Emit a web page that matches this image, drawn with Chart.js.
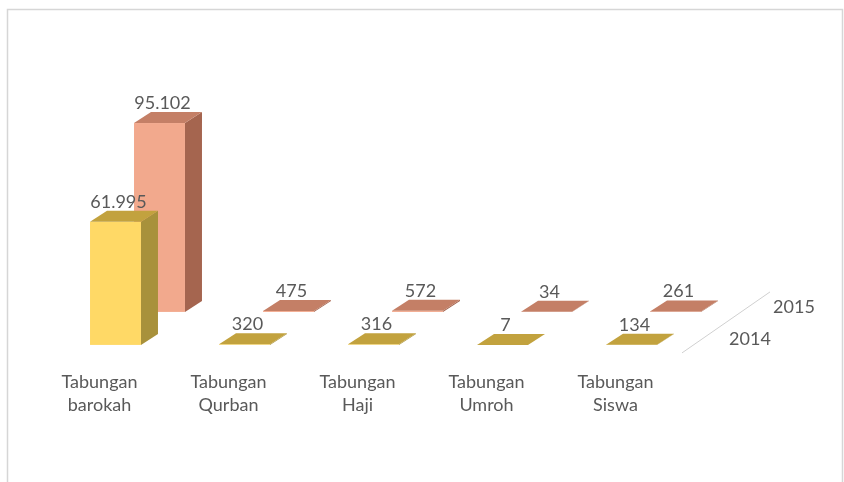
<!DOCTYPE html>
<html><head><meta charset="utf-8">
<script src="https://cdn.jsdelivr.net/npm/chart.js@4"></script>
<style>html,body{margin:0;padding:0;background:#fff}#wrap{width:844px;height:482px;position:relative}</style>
</head><body><div id="wrap"><canvas id="c" width="844" height="482"></canvas></div>
<script>
const categories = [["Tabungan","barokah"],["Tabungan","Qurban"],["Tabungan","Haji"],["Tabungan","Umroh"],["Tabungan","Siswa"]];
const seriesNames = ["2014","2015"];
const values2014 = [61995, 320, 316, 7, 134];
const values2015 = [95102, 475, 572, 34, 261];
const yMax = 150000;

const palette = {
  "2014": {front:"#FFD966", side:"#A8913B", top:"#C2A23E"},
  "2015": {front:"#F2A98D", side:"#A5654F", top:"#C47F66"}
};
const depth = {dx:17, dy:11};
const seriesShift = [{dx:0, dy:0},{dx:44, dy:-33}];

function fmt(v){ return String(Math.round(v)).replace(/\B(?=(\d{3})+(?!\d))/g, "."); }

const bar3d = {
  id:"bar3d",
  beforeDraw(chart){
    const ctx = chart.ctx;
    ctx.save();
    ctx.strokeStyle = "#d6d6d6"; ctx.lineWidth = 1.5;
    ctx.strokeRect(7.5, 9.5, 835, 490);
    ctx.restore();
  },
  beforeDatasetDraw(chart, args){
    const ctx = chart.ctx;
    const ds = chart.data.datasets[args.index];
    const col = palette[ds.label];
    const sh = seriesShift[args.index];
    ctx.save();
    ctx.translate(sh.dx, sh.dy);
    args.meta.data.forEach((el, i) => {
      const p = el.getProps(["x","y","base","width"], true);
      const l = p.x - p.width/2, r = p.x + p.width/2;
      const top = Math.min(p.y, p.base), base = Math.max(p.y, p.base);
      const dx = depth.dx, dy = depth.dy;
      ctx.fillStyle = col.side;
      ctx.beginPath(); ctx.moveTo(r, base); ctx.lineTo(r, top); ctx.lineTo(r+dx, top-dy); ctx.lineTo(r+dx, base-dy); ctx.closePath(); ctx.fill();
      ctx.fillStyle = col.front;
      ctx.fillRect(l, top, r-l, base-top);
      ctx.fillStyle = col.top;
      ctx.beginPath(); ctx.moveTo(l, top); ctx.lineTo(l+dx, top-dy); ctx.lineTo(r+dx, top-dy); ctx.lineTo(r, top); ctx.closePath(); ctx.fill();
      ctx.fillStyle = "#595959";
      ctx.font = "18px Lato";
      ctx.textAlign = "center"; ctx.textBaseline = "alphabetic";
      ctx.fillText(fmt(ds.data[i]), p.x + 3, top - dy - 3);
    });
    ctx.restore();
    return false;
  },
  afterDraw(chart){
    const ctx = chart.ctx, a = chart.chartArea;
    ctx.save();
    ctx.strokeStyle = "#d0d0d0"; ctx.lineWidth = 1;
    ctx.beginPath(); ctx.moveTo(a.right-14, a.bottom+8); ctx.lineTo(a.right+74, a.bottom-53); ctx.stroke();
    ctx.fillStyle = "#595959"; ctx.font = "18px Lato";
    ctx.textAlign = "center"; ctx.textBaseline = "middle";
    ctx.fillText(seriesNames[0], a.right+54, a.bottom-6);
    ctx.fillText(seriesNames[1], a.right+98, a.bottom-38);
    ctx.restore();
  }
};

new Chart(document.getElementById("c"), {
  type:"bar",
  data:{
    labels: categories,
    datasets:[
      {label: seriesNames[0], data: values2014, grouped:false, backgroundColor: palette["2014"].front},
      {label: seriesNames[1], data: values2015, grouped:false, backgroundColor: palette["2015"].front}
    ]
  },
  options:{
    responsive:false, animation:false, devicePixelRatio:1,
    categoryPercentage:1, barPercentage:0.395,
    layout:{padding:{top:47, left:51, right:148, bottom:39}},
    plugins:{legend:{display:false}, tooltip:{enabled:false}},
    scales:{
      y:{display:false, min:0, max:yMax},
      x:{
        grid:{display:false, drawTicks:false}, border:{display:false},
        ticks:{color:"#595959", font:{family:"Lato", size:18, lineHeight:1.28}, padding:26, labelOffset:-16, maxRotation:0, autoSkip:false}
      }
    }
  },
  plugins:[bar3d]
});
</script></body></html>
